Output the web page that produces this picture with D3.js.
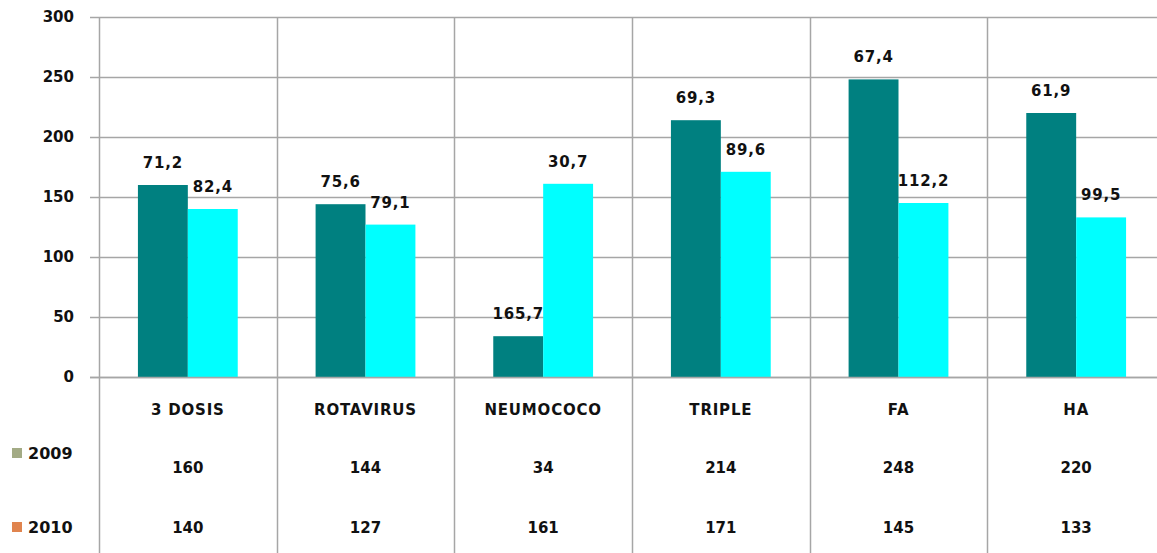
<!DOCTYPE html>
<html>
<head>
<meta charset="utf-8">
<script src="https://cdn.jsdelivr.net/npm/d3@7"></script>
<style>
  html, body { margin: 0; padding: 0; background: #fff; }
  svg { display: block; }
  text { font-family: "DejaVu Sans", sans-serif; font-weight: bold; fill: #111; }
</style>
</head>
<body>
<svg id="chart"></svg>
<script>
const categories = ["3 DOSIS", "ROTAVIRUS", "NEUMOCOCO", "TRIPLE", "FA", "HA"];
const values2009 = [160, 144, 34, 214, 248, 220];
const values2010 = [140, 127, 161, 171, 145, 133];
const labels2009 = ["71,2", "75,6", "165,7", "69,3", "67,4", "61,9"];
const labels2010 = ["82,4", "79,1", "30,7", "89,6", "112,2", "99,5"];
const yTicks = [0, 50, 100, 150, 200, 250, 300];
const seriesNames = ["2009", "2010"];

const width = 1157, height = 553;
const margin = { top: 17, left: 99, right: -8 };
const plotBottom = 377;

const svg = d3.select("#chart")
  .attr("width", width)
  .attr("height", height);

const x = d3.scaleBand()
  .domain(categories)
  .range([margin.left, width - margin.right]);

const y = d3.scaleLinear()
  .domain([0, 300])
  .range([plotBottom, margin.top]);

const inner = d3.scaleBand()
  .domain(seriesNames)
  .range([0, x.bandwidth()])
  .paddingInner(0)
  .paddingOuter(0.78);

const gridColor = "#a6a6a6";

// horizontal gridlines + tick marks
svg.append("g")
  .selectAll("line")
  .data(yTicks)
  .join("line")
  .attr("x1", margin.left - 9)
  .attr("x2", width)
  .attr("y1", d => Math.round(y(d)) + 0.5)
  .attr("y2", d => Math.round(y(d)) + 0.5)
  .attr("stroke", gridColor)
  .attr("stroke-width", 1.5);

// vertical lines (category borders) running through the data table
const borders = categories.map(c => x(c)).concat([x.range()[1]]);
svg.append("g")
  .selectAll("line")
  .data(borders)
  .join("line")
  .attr("x1", d => Math.round(d) + 0.5)
  .attr("x2", d => Math.round(d) + 0.5)
  .attr("y1", margin.top)
  .attr("y2", height)
  .attr("stroke", gridColor)
  .attr("stroke-width", 1.5);

// y axis labels
svg.append("g")
  .selectAll("text")
  .data(yTicks)
  .join("text")
  .attr("x", 74)
  .attr("y", d => y(d))
  .attr("dy", "0.35em")
  .attr("text-anchor", "end")
  .style("font-size", "15px")
  .text(d => d);

const series = [
  { name: "2009", values: values2009, labels: labels2009, color: "#008080" },
  { name: "2010", values: values2010, labels: labels2010, color: "#00ffff" }
];

series.forEach(s => {
  const g = svg.append("g");
  g.selectAll("rect")
    .data(categories)
    .join("rect")
    .attr("x", c => x(c) + inner(s.name))
    .attr("y", (c, i) => y(s.values[i]))
    .attr("width", inner.bandwidth())
    .attr("height", (c, i) => y(0) - y(s.values[i]))
    .attr("fill", s.color);

  g.selectAll("text")
    .data(categories)
    .join("text")
    .attr("x", c => x(c) + inner(s.name) + inner.bandwidth() / 2)
    .attr("y", (c, i) => y(s.values[i]) - 17)
    .attr("text-anchor", "middle")
    .style("font-size", "15px")
    .style("letter-spacing", "0.8px")
    .text((c, i) => s.labels[i]);
});

// redraw the baseline on top of the bars
svg.append("line")
  .attr("x1", margin.left - 9)
  .attr("x2", width)
  .attr("y1", Math.round(y(0)) + 0.5)
  .attr("y2", Math.round(y(0)) + 0.5)
  .attr("stroke", gridColor)
  .attr("stroke-width", 1.5);

// data table: category names
svg.append("g")
  .selectAll("text")
  .data(categories)
  .join("text")
  .attr("x", c => x(c) + x.bandwidth() / 2)
  .attr("y", 410)
  .attr("dy", "0.35em")
  .attr("text-anchor", "middle")
  .style("font-size", "15px")
  .style("letter-spacing", "0.8px")
  .text(c => c);

// data table rows
const rows = [
  { name: "2009", values: values2009, key: "#a3ab85", labelY: 453, rowY: 468 },
  { name: "2010", values: values2010, key: "#e0844e", labelY: 527, rowY: 528 }
];

rows.forEach(r => {
  svg.append("rect")
    .attr("x", 12)
    .attr("y", r.labelY - 5)
    .attr("width", 10)
    .attr("height", 10)
    .attr("fill", r.key);
  svg.append("text")
    .attr("x", 28)
    .attr("y", r.labelY)
    .attr("dy", "0.35em")
    .style("font-size", "16px")
    .text(r.name);
  svg.append("g")
    .selectAll("text")
    .data(categories)
    .join("text")
    .attr("x", c => x(c) + x.bandwidth() / 2)
    .attr("y", r.rowY)
    .attr("dy", "0.35em")
    .attr("text-anchor", "middle")
    .style("font-size", "15px")
    .text((c, i) => r.values[i]);
});
</script>
</body>
</html>
